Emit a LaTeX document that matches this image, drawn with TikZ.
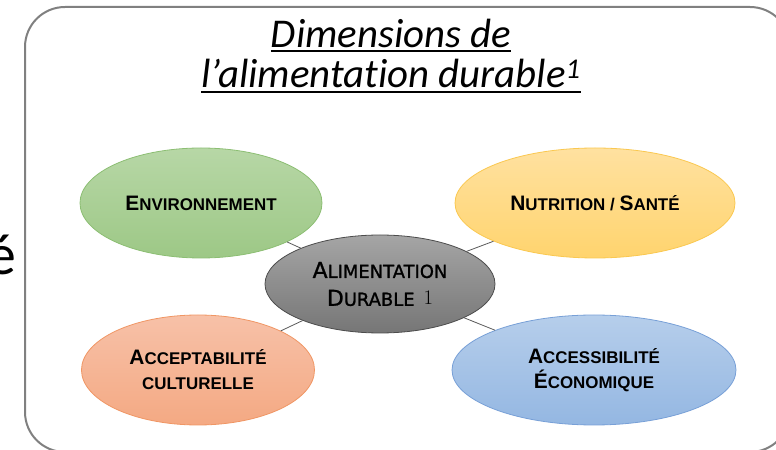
\documentclass[tikz,border=0pt]{standalone}
\usepackage{fontspec}
\setmainfont{Carlito}[Ligatures=NoCommon]
\newfontfamily\dimfont{Liberation Sans}
\newfontfamily\alifont{DejaVu Sans}[FakeBold=1.2]
\usetikzlibrary{shapes.geometric}
\definecolor{envtop}{RGB}{183,215,166}
\definecolor{envbot}{RGB}{157,200,134}
\definecolor{envline}{RGB}{140,190,115}
\definecolor{nuttop}{RGB}{255,225,160}
\definecolor{nutbot}{RGB}{255,212,110}
\definecolor{nutline}{RGB}{250,200,80}
\definecolor{acctop}{RGB}{247,193,168}
\definecolor{accbot}{RGB}{244,169,131}
\definecolor{accline}{RGB}{240,150,100}
\definecolor{ecotop}{RGB}{182,206,235}
\definecolor{ecobot}{RGB}{148,183,226}
\definecolor{ecoline}{RGB}{120,160,215}
\definecolor{alitop}{RGB}{165,165,165}
\definecolor{alibot}{RGB}{118,118,118}
\definecolor{frame}{RGB}{128,128,128}
\newcommand\uln[1]{\setbox0\hbox{#1}\rlap{\rule[-5.5pt]{\wd0}{2.5pt}}\box0}
\newcommand\smcap[2]{{\fontsize{21}{25}\selectfont #1}{\fontsize{17}{25}\selectfont #2}}
\newcommand\midcap[2]{{\fontsize{22}{28}\selectfont #1}{\fontsize{18}{28}\selectfont #2}}
\begin{document}
\begin{tikzpicture}[>=latex,line join=bevel,
  dim/.style={ellipse,draw,line width=0.8bp,inner sep=0pt,minimum height=110bp,align=center,
    font=\dimfont\bfseries\fontsize{17}{25}\selectfont},
  link/.style={draw=black!65,line width=0.8bp}]
%%
\useasboundingbox (0bp,0bp) rectangle (776bp,450bp);
\draw [frame,line width=2bp,rounded corners=40bp] (25bp,-2bp) rectangle (790bp,443bp);
\node (node_cut) at (16bp,175bp) [anchor=base east,inner sep=0pt] {\fontsize{58}{60}\selectfont é};
\node (node_title) at (391bp,394bp) [align=center,font=\itshape\fontsize{41}{41}\selectfont]
  {\uln{Dimensions de}\\ \uln{l’alimentation durable\textsuperscript{1}}};
%
  \node (node_env) at (201bp,247bp) [dim,minimum width=242bp,draw=envline,top color=envtop,bottom color=envbot] {\smcap{E}{NVIRONNEMENT}};
  \node (node_nut) at (595bp,247bp) [dim,minimum width=280bp,draw=nutline,top color=nuttop,bottom color=nutbot] {\smcap{N}{UTRITION} / \smcap{S}{ANTÉ}};
  \node (node_acc) at (198bp,80bp) [dim,minimum width=233bp,draw=accline,top color=acctop,bottom color=accbot] {\smcap{A}{CCEPTABILITÉ}\\ CULTURELLE};
  \node (node_eco) at (594bp,80bp) [dim,minimum width=284bp,draw=ecoline,top color=ecotop,bottom color=ecobot] {\smcap{A}{CCESSIBILITÉ}\\ \smcap{É}{CONOMIQUE}};
  \node (node_ali) at (380bp,166bp) [dim,minimum width=230bp,minimum height=98bp,draw=black!70,top color=alitop,bottom color=alibot,
    font=\alifont\fontsize{18}{28}\selectfont] {\midcap{A}{LIMENTATION}\\ \midcap{D}{URABLE}\hspace{9bp}\raisebox{1.5bp}{\fontsize{20}{28}\selectfont$1$}};
  \draw [link] (node_ali) -- (node_env);
  \draw [link] (node_ali) -- (node_nut);
  \draw [link] (node_ali) -- (node_acc);
  \draw [link] (node_ali) -- (node_eco);
%
\end{tikzpicture}
\end{document}
